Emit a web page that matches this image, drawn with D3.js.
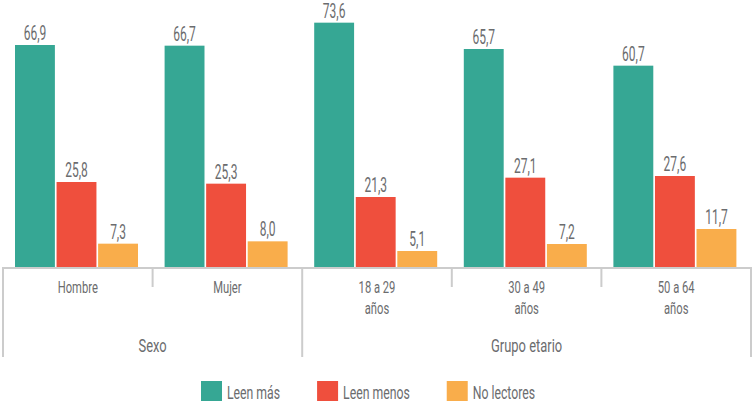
<!DOCTYPE html>
<html>
<head>
<meta charset="utf-8">
<script src="https://cdn.jsdelivr.net/npm/d3@7"></script>
<style>
  body { margin: 0; background: #fff; }
  svg text { font-family: Roboto, "Liberation Sans", sans-serif; fill: #6b6c6e; }
</style>
</head>
<body>
<svg id="chart" width="753" height="403"></svg>
<script>
// Data
var categories = [['Hombre'], ['Mujer'], ['18 a 29', 'años'], ['30 a 49', 'años'], ['50 a 64', 'años']];
var groups = [{name: 'Sexo', from: 0, to: 1}, {name: 'Grupo etario', from: 2, to: 4}];
var series = ['Leen más', 'Leen menos', 'No lectores'];
var colors = ['#36a794', '#ef4f3d', '#f9ad4b'];
var leenMas = [66.9, 66.7, 73.6, 65.7, 60.7];
var leenMenos = [25.8, 25.3, 21.3, 27.1, 27.6];
var noLectores = [7.3, 8.0, 5.1, 7.2, 11.7];
var values = [leenMas, leenMenos, noLectores];

var svg = d3.select('#chart');
var baseY = 268, bottomY = 357;
var fmt = function (v) { return d3.format('.1f')(v).replace('.', ','); };

// squeezed text, to look like the condensed face of the original
var addText = function (sel, x, y, txt, size, sx, anchor) {
  var t = sel.append('text')
    .attr('x', x)
    .attr('y', y)
    .attr('text-anchor', anchor || 'middle')
    .style('font-size', size + 'px')
    .text(txt);
  var w = t.node().getComputedTextLength();
  t.attr('textLength', w * sx).attr('lengthAdjust', 'spacingAndGlyphs');
  return t;
};

var x = d3.scaleBand().domain(d3.range(categories.length)).range([3, 751]);
var xInner = d3.scaleBand().domain(d3.range(series.length)).range([12, 135]).paddingInner(0.04);
var y = d3.scaleLinear().domain([0, 80.4]).range([baseY, 0]);

// Bars and value labels
series.forEach(function (s, si) {
  var g = svg.append('g');
  values[si].forEach(function (v, ci) {
    var bx = x(ci) + xInner(si);
    g.append('rect')
      .attr('x', bx)
      .attr('y', y(v))
      .attr('width', xInner.bandwidth())
      .attr('height', baseY - y(v))
      .attr('fill', colors[si]);
    addText(g, bx + xInner.bandwidth() / 2, y(v) - 5, fmt(v), 20, 0.6);
  });
});

// Axis box
var axis = svg.append('g').attr('stroke', '#cccccc').attr('stroke-width', 2);
axis.append('line').attr('x1', 2).attr('x2', 752).attr('y1', baseY).attr('y2', baseY);
d3.range(categories.length + 1).forEach(function (i) {
  var xx = i < categories.length ? x(i) : x.range()[1];
  var full = i === 0 || i === categories.length || groups.some(function (gr) { return gr.from === i; });
  axis.append('line')
    .attr('x1', xx).attr('x2', xx)
    .attr('y1', baseY).attr('y2', full ? bottomY : 287);
});

// Category labels
categories.forEach(function (lines, ci) {
  lines.forEach(function (l, li) {
    addText(svg, x(ci) + x.bandwidth() / 2, 293 + li * 21, l, 16, 0.7);
  });
});

// Group labels
groups.forEach(function (gr) {
  var cx = (x(gr.from) + x(gr.to) + x.bandwidth()) / 2;
  addText(svg, cx, 352, gr.name, 19, 0.68);
});

// Legend
var lx = 201;
series.forEach(function (s, si) {
  svg.append('rect')
    .attr('x', lx).attr('y', 381)
    .attr('width', 21).attr('height', 20)
    .attr('fill', colors[si]);
  var t = addText(svg, lx + 26, 398.5, s, 18, 0.68, 'start');
  lx += 26 + t.node().getComputedTextLength() + 37;
});
</script>
</body>
</html>
